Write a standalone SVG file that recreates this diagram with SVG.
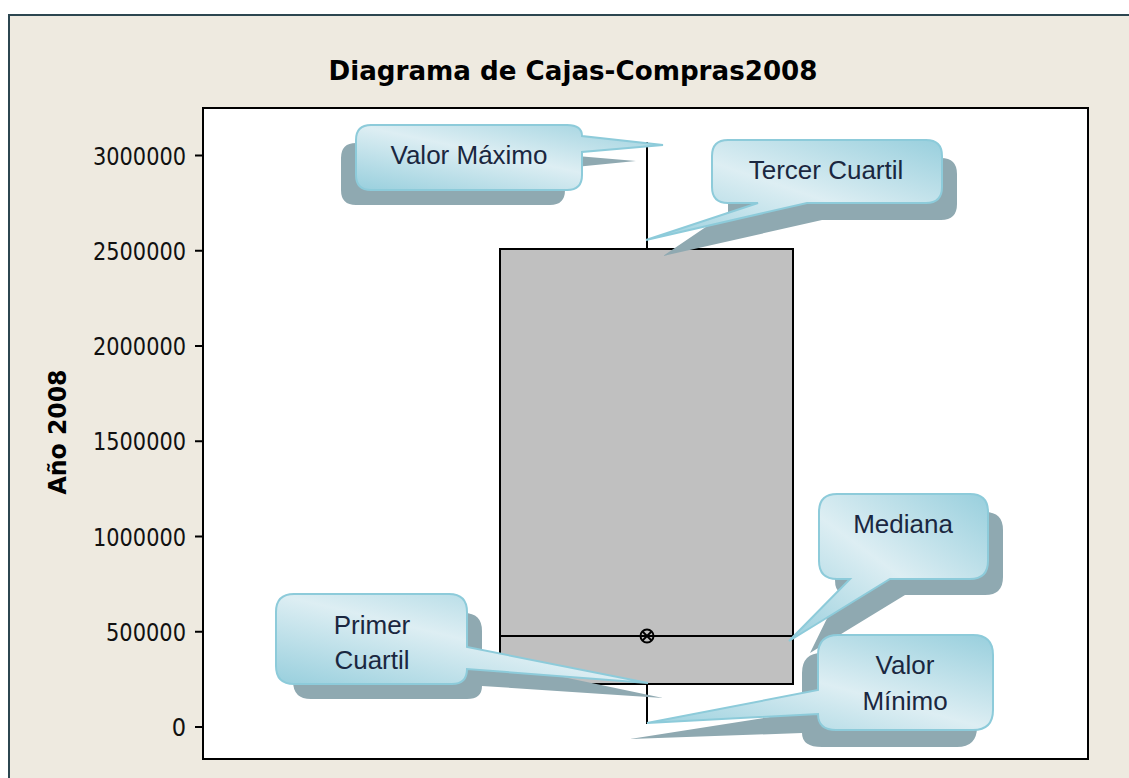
<svg xmlns="http://www.w3.org/2000/svg" width="1129" height="778" viewBox="0 0 1129 778">
<style>
.tick{font-family:"DejaVu Sans Condensed","DejaVu Sans",sans-serif;font-stretch:condensed;font-size:25px;fill:#111;text-anchor:end}
.title{font-family:"DejaVu Sans Condensed","DejaVu Sans",sans-serif;font-stretch:condensed;font-weight:bold;fill:#000;text-anchor:middle}
.ct{font-family:"Liberation Sans",Arial,sans-serif;font-size:26px;fill:#1A2740;text-anchor:middle}
.body{fill:url(#cg);stroke:#8DCBDA;stroke-width:2}
.shadow{fill:#8FA9B1}
.ax{stroke:#000;stroke-width:2;fill:none}
</style>
<defs>
<linearGradient id="cg" x1="1" y1="0" x2="0" y2="1">
<stop offset="0" stop-color="#98CFDD"/>
<stop offset="0.5" stop-color="#DDEEF3"/>
<stop offset="1" stop-color="#98CFDD"/>
</linearGradient>
</defs>
<rect x="0" y="0" width="1129" height="778" fill="#fff"/>
<rect id="frame" x="9" y="15" width="1135" height="780" fill="#EEEAE0" stroke="#2C4650" stroke-width="2"/>
<text class="title" x="573" y="80" font-size="27" textLength="489" lengthAdjust="spacingAndGlyphs">Diagrama de Cajas-Compras2008</text>
<text class="title" font-size="25" transform="translate(66,432) rotate(-90)" textLength="125" lengthAdjust="spacingAndGlyphs">Año 2008</text>
<g id="plot">
<rect x="203" y="108" width="885" height="651" fill="#fff" stroke="#000" stroke-width="2"/>
<g class="ax">
<line x1="195" y1="155.5" x2="203" y2="155.5"/>
<line x1="195" y1="250.75" x2="203" y2="250.75"/>
<line x1="195" y1="346" x2="203" y2="346"/>
<line x1="195" y1="441.25" x2="203" y2="441.25"/>
<line x1="195" y1="536.5" x2="203" y2="536.5"/>
<line x1="195" y1="631.75" x2="203" y2="631.75"/>
<line x1="195" y1="727" x2="203" y2="727"/>
</g>
<text class="tick" x="186" y="164.5" textLength="93" lengthAdjust="spacingAndGlyphs">3000000</text>
<text class="tick" x="186" y="259.5" textLength="93" lengthAdjust="spacingAndGlyphs">2500000</text>
<text class="tick" x="186" y="355" textLength="93" lengthAdjust="spacingAndGlyphs">2000000</text>
<text class="tick" x="186" y="450" textLength="93" lengthAdjust="spacingAndGlyphs">1500000</text>
<text class="tick" x="186" y="545.5" textLength="93" lengthAdjust="spacingAndGlyphs">1000000</text>
<text class="tick" x="186" y="640.5" textLength="80" lengthAdjust="spacingAndGlyphs">500000</text>
<text class="tick" x="186" y="736">0</text>
</g>
<g id="boxplot">
<rect x="500" y="249" width="293" height="435" fill="#C0C0C0" stroke="#000" stroke-width="2"/>
<line class="ax" x1="500" y1="636" x2="793" y2="636"/>
<line class="ax" x1="647" y1="142" x2="647" y2="249"/>
<line class="ax" x1="647" y1="684" x2="647" y2="724"/>
<g id="mean" class="ax">
<circle cx="647" cy="636" r="6.5"/>
<line x1="642.5" y1="631.5" x2="651.5" y2="640.5"/>
<line x1="651.5" y1="631.5" x2="642.5" y2="640.5"/>
</g>
</g>
<g id="callout-max">
<path class="shadow" d="M356 143 H550 Q565 143 565 155 L636 161 L565 168 V190 Q565 205 550 205 H356 Q341 205 341 190 V158 Q341 143 356 143 Z"/>
<path class="body" d="M371 125 H567 Q582 125 582 136 L663 145 L582 152 V175 Q582 190 567 190 H371 Q356 190 356 175 V140 Q356 125 371 125 Z"/>
<text class="ct" x="469" y="164">Valor Máximo</text>
</g>
<g id="callout-q3">
<path class="shadow" d="M744 158 H941 Q957 158 957 174 V204 Q957 220 941 220 H822 L663 256 L728 212 V174 Q728 158 744 158 Z"/>
<path class="body" d="M728 140 H926 Q942 140 942 156 V187 Q942 203 926 203 H807 L646 240 L758 203 H728 Q712 203 712 187 V156 Q712 140 728 140 Z"/>
<text class="ct" x="826" y="179">Tercer Cuartil</text>
</g>
<g id="callout-q1">
<path class="shadow" d="M311 613 H464 Q482 613 482 631 V660 L663 698 L482 686 Q482 699 467 699 H311 Q293 699 293 681 V631 Q293 613 311 613 Z"/>
<path class="body" d="M294 594 H449 Q467 594 467 612 V647 L648 683 L467 669 Q467 684 452 684 H294 Q276 684 276 666 V612 Q276 594 294 594 Z"/>
<text class="ct" x="372" y="634">Primer</text>
<text class="ct" x="372" y="669">Cuartil</text>
</g>
<g id="callout-median">
<path class="shadow" d="M853 512 H985 Q1003 512 1003 530 V577 Q1003 595 985 595 H905 L810 653 L840 592 Q835 590 835 580 V530 Q835 512 853 512 Z"/>
<path class="body" d="M837 494 H970 Q988 494 988 512 V561 Q988 579 970 579 H890 L789 641 L850 579 H837 Q819 579 819 561 V512 Q819 494 837 494 Z"/>
<text class="ct" x="903" y="533">Mediana</text>
</g>
<g id="callout-min">
<path class="shadow" d="M822 653 H957 Q977 653 977 673 V727 Q977 747 957 747 H822 Q802 747 802 733 L630 739 L802 712 V673 Q802 653 822 653 Z"/>
<path class="body" d="M838 635 H973 Q993 635 993 655 V710 Q993 730 973 730 H836 Q818 730 818 714 L647 723 L818 690 V655 Q818 635 838 635 Z"/>
<text class="ct" x="905" y="674">Valor</text>
<text class="ct" x="905" y="710">Mínimo</text>
</g>
</svg>
